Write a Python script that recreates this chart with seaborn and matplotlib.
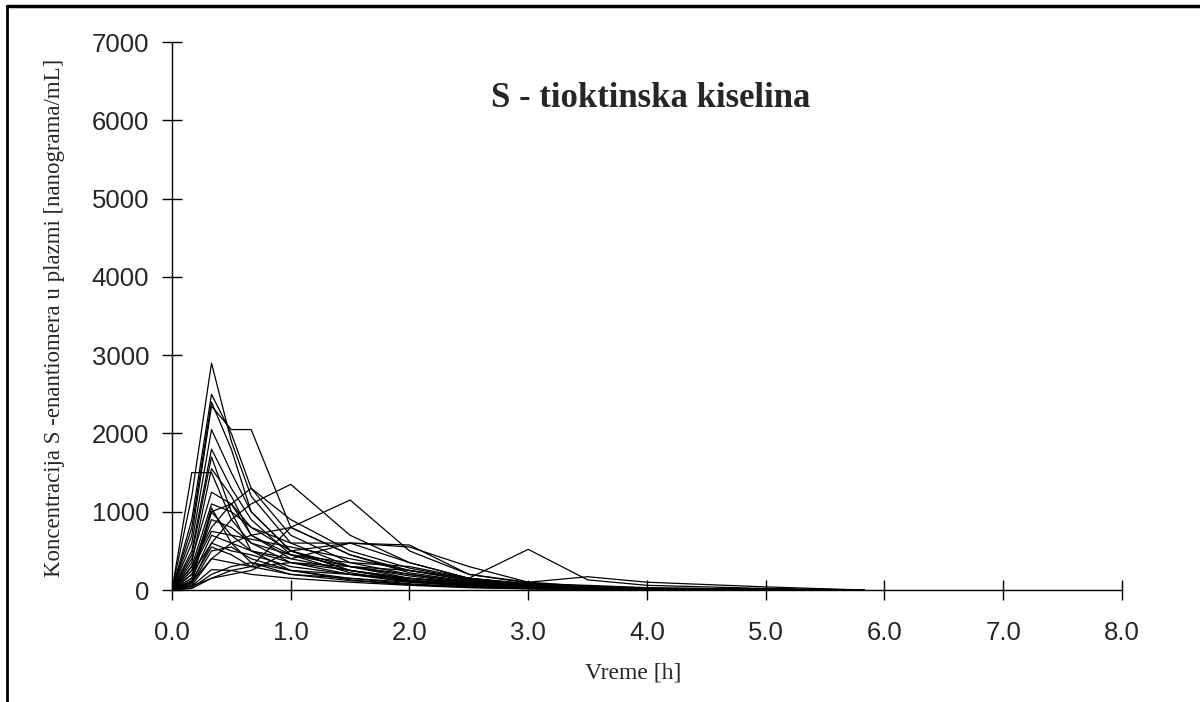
import numpy as np
import pandas as pd
import matplotlib
matplotlib.use('Agg')
import matplotlib.pyplot as plt
from matplotlib.lines import Line2D
import seaborn as sns

# sampling times [h]
times = [0, 0.167, 0.333, 0.5, 0.667, 1.0, 1.5, 2.0, 2.5, 3.0, 3.5, 4.0, 5.0, 5.83]

# plasma concentrations per subject [ng/mL]
subjects = {
    's01': [0, 1200, 2900, 1900, 1200, 600, 300, 150, 80, 40, 20, 10, 5, 0],
    's02': [0, 900, 2500, 2000, 1300, 700, 350, 200, 100, 60, 30, 15, 5, 0],
    's03': [0, 800, 2400, 1800, 1000, 500, 250, 120, 60, 30, 15, 8, 3, 0],
    's04': [0, 700, 2350, 2050, 2050, 800, 450, 250, 120, 60, 30, 15, 5, 0],
    's05': [0, 1500, 1500, 900, 600, 350, 200, 100, 50, 25, 10, 5, 2, 0],
    's06': [0, 600, 2050, 1500, 1000, 500, 250, 130, 60, 30, 15, 8, 3, 0],
    's07': [0, 500, 1800, 1300, 900, 450, 220, 110, 60, 30, 15, 8, 3, 0],
    's08': [0, 200, 600, 900, 1100, 1350, 700, 350, 150, 70, 30, 15, 5, 0],
    's09': [0, 100, 400, 600, 700, 800, 1150, 500, 200, 90, 40, 20, 8, 0],
    's10': [0, 50, 150, 250, 300, 350, 300, 250, 150, 520, 130, 60, 20, 0],
    's11': [0, 300, 800, 1100, 1300, 900, 500, 280, 140, 70, 35, 18, 6, 0],
    's12': [0, 400, 1250, 1100, 800, 500, 300, 180, 90, 50, 25, 12, 5, 0],
    's13': [0, 300, 1100, 1000, 800, 600, 600, 350, 150, 80, 40, 20, 8, 0],
    's14': [0, 250, 1000, 700, 500, 350, 250, 150, 80, 40, 20, 10, 4, 0],
    's15': [0, 200, 900, 800, 600, 450, 350, 300, 150, 80, 60, 30, 10, 0],
    's16': [0, 150, 700, 600, 500, 400, 600, 575, 200, 100, 50, 25, 10, 0],
    's17': [0, 100, 600, 500, 450, 300, 200, 120, 70, 40, 20, 10, 4, 0],
    's18': [0, 80, 500, 550, 400, 250, 150, 100, 60, 30, 15, 8, 3, 0],
    's19': [0, 60, 400, 350, 300, 200, 150, 80, 40, 20, 10, 5, 2, 0],
    's20': [0, 50, 260, 250, 200, 150, 100, 60, 30, 15, 8, 4, 2, 0],
    's21': [0, 30, 200, 300, 350, 250, 200, 150, 100, 50, 25, 12, 5, 0],
    's22': [0, 100, 1000, 1100, 700, 450, 300, 200, 100, 50, 25, 12, 5, 0],
    's23': [0, 20, 150, 200, 250, 500, 600, 550, 300, 100, 170, 100, 40, 0],
    's24': [0, 350, 1550, 1200, 700, 400, 250, 150, 70, 35, 18, 9, 4, 0],
    's25': [0, 150, 1050, 600, 350, 200, 120, 70, 40, 20, 10, 5, 2, 0],
    's26': [0, 250, 750, 700, 650, 550, 400, 250, 130, 60, 30, 15, 6, 0],
    's27': [0, 120, 550, 450, 300, 800, 450, 220, 110, 55, 25, 12, 5, 0],
    's28': [0, 450, 1700, 1000, 500, 250, 130, 70, 35, 18, 9, 4, 2, 0],
}

x_ticks = [0, 1, 2, 3, 4, 5, 6, 7, 8]
y_ticks = [0, 1000, 2000, 3000, 4000, 5000, 6000, 7000]

rows = []
for name, conc in subjects.items():
    for t, c in zip(times, conc):
        rows.append({'subject': name, 'time': t, 'conc': c})
df = pd.DataFrame(rows)

sns.set_style('ticks')
plt.rcParams['font.family'] = ['Liberation Sans', 'DejaVu Sans']

fig = plt.figure(figsize=(12, 7.02), dpi=100)
ax = fig.add_axes([0.1433, 0.1595, 0.7917, 0.7805])

sns.lineplot(data=df, x='time', y='conc', units='subject', estimator=None,
             color='black', linewidth=0.9, ax=ax)

ax.set_xlim(0, 8)
ax.set_ylim(0, 7000)
ax.set_xticks(x_ticks)
ax.set_xticklabels([f'{v:.1f}' for v in x_ticks])
ax.set_yticks(y_ticks)
ax.set_yticklabels([str(v) for v in y_ticks])
ax.tick_params(direction='inout', length=15, width=1, labelsize=18.5, color='black')
ax.tick_params(axis='x', pad=15)
ax.tick_params(axis='y', pad=9)
sns.despine(ax=ax)
for sp in ['left', 'bottom']:
    ax.spines[sp].set_linewidth(1)
    ax.spines[sp].set_color('black')
ax.set_facecolor('white')

ax.set_xlabel('Vreme [h]', family='Liberation Serif', fontsize=17)
ax.set_ylabel('Koncentracija S -enantiomera u plazmi [nanograma/mL]',
              family='Liberation Serif', fontsize=16.5)
ax.xaxis.set_label_coords(0.485, -0.151)
ax.yaxis.set_label_coords(-0.124, 0.497)
ax.xaxis.label.set_va('center')
ax.yaxis.label.set_va('center')

fig.text(0.542, 0.86, 'S - tioktinska kiselina', family='Liberation Serif',
         fontweight='bold', fontsize=25, ha='center', va='center')

# outer frame (left and top edges only visible)
fig.add_artist(Line2D([0.006, 0.006], [0, 0.991], transform=fig.transFigure,
                      color='black', linewidth=2))
fig.add_artist(Line2D([0.006, 1.0], [0.991, 0.991], transform=fig.transFigure,
                      color='black', linewidth=2.5))

fig.savefig('out.png', dpi=100, facecolor='white')
